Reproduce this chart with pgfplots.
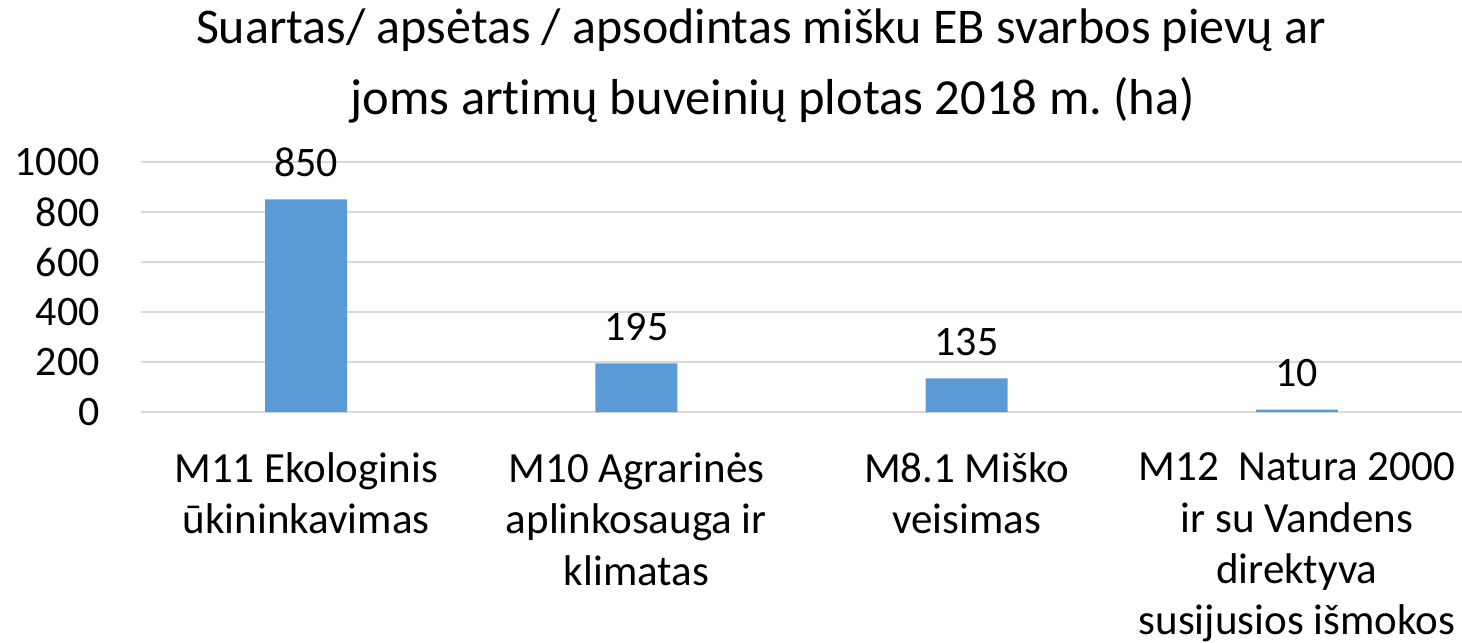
\documentclass[border=0pt]{standalone}
\usepackage{fontspec}
\setmainfont{Carlito}[Ligatures=NoCommon]
\usepackage{pgfplots}
\pgfplotsset{compat=1.18}
\definecolor{barblue}{HTML}{5B9BD5}
\definecolor{gridgray}{HTML}{D9D9D9}
\frenchspacing
\begin{document}
\begin{tikzpicture}
\begin{axis}[
  name=ax,
  scale only axis,
  width=660.5bp, height=125bp,
  xmin=-0.5, xmax=3.5, ymin=0, ymax=1000,
  axis line style={draw=none},
  tick style={draw=none},
  ytick={0,200,400,600,800,1000},
  ymajorgrids, major grid style={gridgray, line width=0.8bp},
  xtick={0,1,2,3},
  xticklabels={{M11 Ekologinis\\ūkininkavimas},{M10 Agrarinės\\aplinkosauga ir\\klimatas},{M8.1 Miško\\veisimas},{M12~~Natura 2000\\ir su Vandens\\direktyva\\susijusios išmokos}},
  xticklabel style={anchor=north, inner sep=0pt, yshift=-16bp, align=center, font=\fontsize{21.5bp}{25.6bp}\selectfont},
  yticklabel style={anchor=east, inner sep=0pt, xshift=-20.5bp, font=\fontsize{21bp}{25bp}\selectfont},
  /pgf/number format/assume math mode=true,
  /pgf/number format/1000 sep={},
  ybar, bar width=41bp,
  nodes near coords,
  every node near coord/.append style={font=\fontsize{21bp}{25bp}\selectfont, inner sep=0pt, anchor=south, yshift=11bp, black},
  clip=false,
]
\addplot[fill=barblue, draw=none, bar shift=0pt] coordinates {(0,850) (1,195) (2,135) (3,10)};
\end{axis}
\node[anchor=base, inner sep=0pt, font=\fontsize{25bp}{29bp}\selectfont] at ([xshift=310bp, yshift=184bp]ax.south west) {Suartas/ apsėtas / apsodintas mišku EB svarbos pievų ar};
\node[anchor=base, inner sep=0pt, font=\fontsize{25.3bp}{29bp}\selectfont] at ([xshift=316bp, yshift=148.5bp]ax.south west) {joms artimų buveinių plotas 2018 m. (ha)};
\pgfresetboundingbox
\path[use as bounding box] ([xshift=-70.5bp, yshift=-115.5bp]ax.south west) rectangle ([xshift=660.5bp, yshift=206bp]ax.south west);
\end{tikzpicture}
\end{document}
